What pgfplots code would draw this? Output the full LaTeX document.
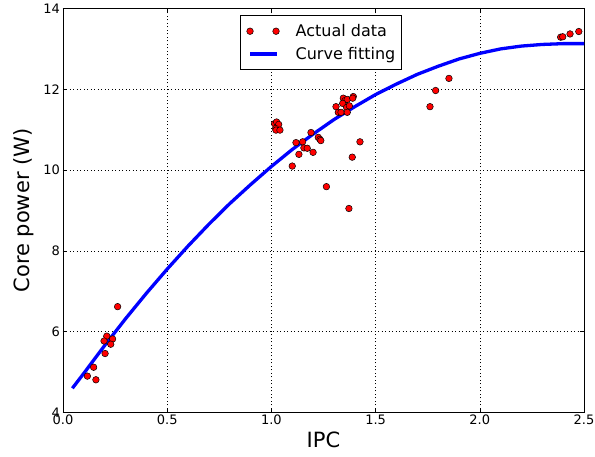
\documentclass[border=0pt]{standalone}
\usepackage{fontspec}
\setmainfont{DejaVu Sans}
\usepackage{pgfplots}
\pgfplotsset{compat=1.18}
\begin{document}
\begin{tikzpicture}
\path[use as bounding box] (-63bp,-44.5bp) rectangle (532bp,412.5bp);
\begin{axis}[
  at={(0,0)}, anchor=south west,
  scale only axis, width=521bp, height=404bp,
  xmin=0, xmax=2.5, ymin=4, ymax=14,
  xtick={0,0.5,1,1.5,2,2.5},
  xticklabels={0.0,0.5,1.0,1.5,2.0,2.5},
  ytick={4,6,8,10,12,14},
  /pgf/number format/assume math mode=true,
  grid=major,
  major grid style={black, line width=0.5bp, dash pattern=on 1bp off 2.5bp},
  tick align=inside, major tick length=4.5bp,
  every tick/.style={black, line width=0.6bp},
  axis line style={line width=0.8bp},
  ticklabel style={font=\fontsize{13bp}{15bp}\selectfont},
  xticklabel style={inner sep=2bp},
  yticklabel style={inner sep=3bp},
  label style={font=\fontsize{21bp}{25bp}\selectfont},
  xlabel={IPC},
  xlabel style={at={(axis description cs:0.5,-0.0681)}, anchor=center},
  ylabel={Core power (W)},
  ylabel style={at={(axis description cs:-0.0749,0.5)}, anchor=center},
  legend style={at={(axis description cs:0.3397,0.9839)}, anchor=north west,
    draw=black, line width=0.8bp, fill=white, inner xsep=4bp, inner ysep=7bp,
    row sep=5bp, font=\fontsize{16bp}{19bp}\selectfont},
  legend cell align=left,
]
\addplot[only marks, mark=*, mark size=3.3bp,
  mark options={fill=red, draw=black, line width=0.5bp},
  legend image code/.code={
    \draw[fill=red, draw=black, line width=0.5bp] (0bp,0bp) circle (3.3bp);
    \draw[fill=red, draw=black, line width=0.5bp] (26bp,0bp) circle (3.3bp);
    \path (-4bp,0bp) (42bp,0bp);
  }] coordinates {
(0.262,6.62) (0.210,5.89) (0.197,5.77) (0.238,5.82) (0.229,5.69) (0.202,5.46)
(0.147,5.12) (0.117,4.90) (0.158,4.81)
(1.015,11.15) (1.025,11.19) (1.035,11.13) (1.020,11.03) (1.022,10.99) (1.041,10.99)
(1.190,10.93) (1.118,10.68) (1.150,10.70) (1.156,10.55) (1.172,10.54) (1.132,10.39)
(1.200,10.44) (1.225,10.81) (1.233,10.76) (1.237,10.73) (1.100,10.10) (1.425,10.70)
(1.388,10.32) (1.264,9.59) (1.372,9.05)
(1.310,11.57) (1.321,11.43) (1.345,11.78) (1.353,11.72) (1.364,11.75) (1.342,11.65)
(1.361,11.55) (1.374,11.59) (1.393,11.82) (1.390,11.78) (1.334,11.43) (1.364,11.43)
(1.852,12.27) (1.788,11.97) (1.761,11.57)
(2.388,13.29) (2.398,13.30) (2.433,13.37) (2.475,13.43)
};
\addlegendentry{Actual data}
\addplot[blue, line width=3.3bp, no marks,
  legend image code/.code={
    \draw[blue, line width=3.3bp] (0bp,0bp) -- (27bp,0bp);
    \path (-4bp,0bp) (42bp,0bp);
  }] coordinates {
(0.045,4.60) (0.1,4.97) (0.2,5.66) (0.3,6.32) (0.4,6.95) (0.5,7.55)
(0.6,8.12) (0.7,8.66) (0.8,9.17) (0.9,9.64) (1.0,10.09) (1.1,10.51)
(1.2,10.89) (1.3,11.25) (1.4,11.57) (1.5,11.87) (1.6,12.13) (1.7,12.37)
(1.8,12.57) (1.9,12.75) (2.0,12.89) (2.1,13.00) (2.2,13.07) (2.3,13.11)
(2.4,13.13) (2.5,13.13)
};
\addlegendentry{Curve fitting\hspace{5bp}}
\end{axis}
\end{tikzpicture}
\end{document}
